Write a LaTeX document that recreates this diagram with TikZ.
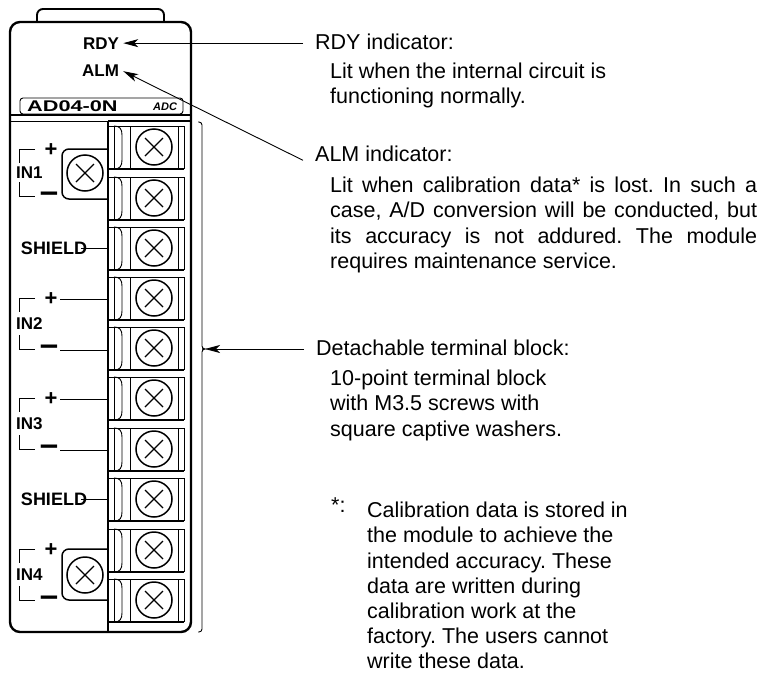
\documentclass[tikz,border=0pt]{standalone}
\usepackage{fontspec}
\setmainfont{Liberation Sans}
\usetikzlibrary{arrows.meta,calc}
\newcommand{\jline}[1]{\makebox[427pt][s]{#1}}
\frenchspacing

\begin{document}
\begin{tikzpicture}[
  x=1pt, y=-1pt,
  font=\fontsize{21.5}{25.2}\selectfont,
  body/.style={line width=2.4pt, rounded corners=10pt},
  thinl/.style={line width=0.9pt},
  rowl/.style={line width=1.7pt},
  lab/.style={font=\fontsize{18}{20}\selectfont\bfseries, inner sep=0pt},
  sign/.style={inner sep=0pt, font=\fontsize{22}{24}\selectfont\bfseries},
  screw/.style={draw, circle, line width=1.5pt, minimum size=36pt, inner sep=0pt,
                path picture={\draw[line width=1.3pt]
                  (path picture bounding box.center) +(-9,-9) -- +(9,9)
                  (path picture bounding box.center) +(-9,9) -- +(9,-9);}},
  plate/.style={line width=1.5pt, rounded corners=7pt},
  note/.style={anchor=north west, inner sep=0pt, align=left},
  head/.style={anchor=base west, inner xsep=12pt, inner ysep=0pt},
  arr/.style={-{Stealth[length=15pt, width=8pt, inset=4pt]}, line width=0.9pt}
]
\useasboundingbox (0,0) rectangle (761,675);

% housing
\draw[line width=1.9pt, rounded corners=6pt] (37,22) -- (37,9) -- (164,9) -- (164,22);
\draw[body] (10,115) -- (10,22) -- (191,22) -- (191,632) -- (10,632) -- cycle;
\draw[thinl, rounded corners=3pt] (20,98) rectangle (183,114);
\draw[line width=1.2pt] (10,115) -- (191,115);
\draw[line width=0.4pt] (10,121) -- (108,121);
\draw[line width=1.7pt] (108,121) -- (191,121);
\draw[line width=1.2pt] (108,121) -- (108,632);
\coordinate (blk) at (108,0);

\node[lab, anchor=base west, font=\fontsize{17}{19}\selectfont\bfseries] (rdy) at (83,49) {RDY};
\node[lab, anchor=base west, font=\fontsize{17}{19}\selectfont\bfseries] (alm) at (82,76) {ALM};
\node[anchor=base west, inner sep=0pt, font=\fontsize{15.5}{17}\selectfont\bfseries] (model) at (27,111)
  {\scalebox{1.4}[1]{AD04-0N}};
\node[anchor=base west, inner sep=0pt, font=\fontsize{11}{12}\selectfont\bfseries\itshape] (adc) at (153,110) {ADC};

% terminal rows
\foreach \r/\yc in {1/147,2/198,3/248,4/298,5/348,6/398,7/449,8/499,9/550,10/600} {
  \draw[thinl] (108,\yc-21) -- (184,\yc-21) -- (184,\yc+22);
  \draw[rowl] (108,\yc+22) -- (184,\yc+22);
  \draw[thinl] (130,\yc-21) -- (130,\yc+22) (178,\yc-21) -- (178,\yc+22);
  \draw[thinl] (114,\yc-21) -- (114,\yc+22);
  \draw[thinl] (114,\yc-21) .. controls (120,\yc-21) and (122,\yc-18) .. (122,\yc-12)
    -- (122,\yc+13) .. controls (122,\yc+19) and (120,\yc+22) .. (114,\yc+22);
  \node[screw] (scr\r) at (154,\yc) {};
}

% inputs
\foreach \n/\t/\b in {1/149/196,2/298/349,3/398/449,4/549/600} {
  \draw[thinl] (35,\t) -- (19,\t) -- (19,\t+14);
  \draw[thinl] (19,\b-14) -- (19,\b) -- (35,\b);
  \node[lab, anchor=base west, font=\fontsize{17}{19}\selectfont\bfseries] (in\n) at (16,{(\t+\b)/2+6}) {IN\n};
  \node[sign, inner xsep=2.6pt] (plus\n) at (51,\t+1) {+};
  \node[sign, inner xsep=2pt, font=\fontsize{33}{35}\selectfont\bfseries] (minus\n) at (49,\b+1) {–};
}
\draw[plate] (108,149) -- (62,149) -- (62,199) -- (108,199);
\draw[plate] (108,549) -- (62,549) -- (62,600) -- (108,600);
\node[screw] (scrA) at (85,173) {};
\node[screw] (scrB) at (85,575) {};
\draw[thinl] (plus2.east) -- (plus2.east -| blk);
\draw[thinl] (minus2.east) -- (minus2.east -| blk);
\draw[thinl] (plus3.east) -- (plus3.east -| blk);
\draw[thinl] (minus3.east) -- (minus3.east -| blk);
\node[lab] (shieldA) at (54,248) {SHIELD};
\node[lab] (shieldB) at (54,499) {SHIELD};
\draw[thinl] ([xshift=-6pt]shieldA.east) -- (shieldA.east -| blk);
\draw[thinl] ([xshift=-6pt]shieldB.east) -- (shieldB.east -| blk);

% bracket round the terminal block
\coordinate (bracetip) at (205,349);
\draw[thinl, rounded corners=3pt] (198,122) -- (202,122) -- (202,349) -- (bracetip) -- (202,349) -- (202,632) -- (198,632);

% descriptions
\node[head] (rdyind) at (303,49) {RDY indicator:};
\node[note] (rdytxt) at (330,63) {Lit when the internal circuit is\\functioning normally.};
\node[head] (almind) at (303,161) {ALM indicator:};
\node[note] (almtxt) at (330,177) {\jline{Lit when calibration data* is lost. In such a}\\
  \jline{case, A/D conversion will be conducted, but}\\
  \jline{its accuracy is not addured. The module}\\
  requires maintenance service.};
\node[head] (detind) at (304,355) {Detachable terminal block:};
\node[note] (dettxt) at (330,370) {10-point terminal block\\with M3.5 screws with\\square captive washers.};
\node[note] (star) at (331,498) {*:};
\node[note] (startxt) at (367,502) {Calibration data is stored in\\the module to achieve the\\intended accuracy. These\\data are written during\\calibration work at the\\factory. The users cannot\\write these data.};

\draw[arr] (rdyind.west |- rdy.east) -- ([xshift=4pt]rdy.east);
\draw[arr] ([yshift=-7pt]almind.west) -- ([xshift=4pt,yshift=-1pt]alm.east);
\draw[arr] (detind.west |- bracetip) -- (bracetip);
\end{tikzpicture}
\end{document}
